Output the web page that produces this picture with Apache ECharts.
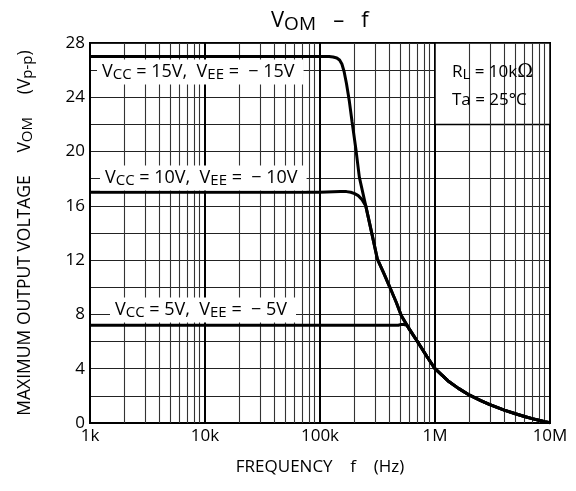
<!DOCTYPE html>
<html>
<head>
<meta charset="utf-8">
<script src="https://cdn.jsdelivr.net/npm/echarts@6/dist/echarts.min.js"></script>
<style>html,body{margin:0;padding:0;background:#fff}#c{width:576px;height:491px}</style>
</head>
<body>
<div id="c"></div>
<script>
// ---- data ----
const freq15 = [1e3, 1e4, 1e5, 1.2e5, 1.3e5, 1.4e5, 1.48e5, 1.55e5, 1.62e5, 1.7e5, 1.8e5, 1.9e5, 2.05e5, 2.2e5, 2.5e5, 2.8e5, 3.15e5, 3.6e5, 4.05e5, 4.6e5, 5.1e5, 6e5, 7.1e5, 8.5e5, 1e6, 1.3e6, 1.6e6, 2e6, 2.5e6, 3e6, 4e6, 5e6, 6e6, 7e6, 8e6, 9e6, 1e7];
const volt15 = [27, 27, 27, 27, 26.97, 26.9, 26.75, 26.45, 25.9, 25.0, 23.7, 22.2, 20.2, 18.1, 16.0, 14.1, 12.1, 11.0, 10.0, 8.9, 7.9, 6.9, 5.95, 4.9, 4.0, 3.1, 2.55, 2.05, 1.65, 1.35, 0.95, 0.68, 0.48, 0.32, 0.2, 0.1, 0.02];

const freq10 = [1e3, 1e4, 1e5, 1.5e5, 1.7e5, 1.85e5, 2e5, 2.15e5, 2.3e5, 2.42e5, 2.5e5, 2.8e5, 3.15e5, 3.6e5, 4.05e5, 4.6e5, 5.1e5, 6e5, 7.1e5, 8.5e5, 1e6, 1.3e6, 1.6e6, 2e6, 2.5e6, 3e6, 4e6, 5e6, 6e6, 7e6, 8e6, 9e6, 1e7];
const volt10 = [17, 17, 17, 17.05, 17.05, 17.0, 16.9, 16.75, 16.5, 16.2, 16.0, 14.1, 12.1, 11.0, 10.0, 8.9, 7.9, 6.9, 5.95, 4.9, 4.0, 3.1, 2.55, 2.05, 1.65, 1.35, 0.95, 0.68, 0.48, 0.32, 0.2, 0.1, 0.02];

const freq5 = [1e3, 1e4, 1e5, 4.8e5, 5.0e5, 5.35e5, 5.7e5, 6e5, 7.1e5, 8.5e5, 1e6, 1.3e6, 1.6e6, 2e6, 2.5e6, 3e6, 4e6, 5e6, 6e6, 7e6, 8e6, 9e6, 1e7];
const volt5 = [7.2, 7.2, 7.2, 7.2, 7.25, 7.25, 7.2, 6.9, 5.95, 4.9, 4.0, 3.1, 2.55, 2.05, 1.65, 1.35, 0.95, 0.68, 0.48, 0.32, 0.2, 0.1, 0.02];

const xTickValues = [1e3, 1e4, 1e5, 1e6, 1e7];
const xTickLabels = ['1k', '10k', '100k', '1M', '10M'];
const decades = [1e3, 1e4, 1e5, 1e6];
const minorMultipliers = [2, 3, 4, 5, 6, 7, 8, 9];
const yLabelStep = 4;

// ---- chart ----
const FONT = 'Open Sans';
const pairs = (fs, vs) => fs.map((f, i) => [f, vs[i]]);
const minorLines = [];
decades.forEach(d => minorMultipliers.forEach(m => minorLines.push({ xAxis: d * m })));

const subRich = {
  v: { fontSize: 18, fontFamily: FONT, color: '#000' },
  s: { fontSize: 15, fontFamily: FONT, color: '#000', padding: [6, 0, 0, 0] }
};
function labelBox(x, y, txt) {
  return {
    type: 'text', x: x, y: y, z: 20,
    style: {
      text: txt, rich: subRich, fill: '#000', fontSize: 18, fontFamily: FONT,
      backgroundColor: '#fff', padding: [2, 9, 2, 5], verticalAlign: 'middle', align: 'left'
    }
  };
}

const chart = echarts.init(document.getElementById('c'), null, { renderer: 'canvas' });
const lineStyle = { color: '#000', width: 3 };
chart.setOption({
  animation: false,
  backgroundColor: '#fff',
  title: {
    text: '{v|V}{s|OM}{v|   –   f}',
    left: 266, top: 2,
    textStyle: {
      rich: {
        v: { fontSize: 22, fontFamily: FONT, fontWeight: 'normal', color: '#000' },
        s: { fontSize: 19, fontFamily: FONT, fontWeight: 'normal', color: '#000', padding: [8, 0, 0, 0] }
      }
    }
  },
  grid: { left: 90, right: 26, top: 43, bottom: 68, show: true, borderColor: '#000', borderWidth: 2, backgroundColor: 'transparent' },
  xAxis: {
    type: 'log', logBase: 10, min: 1e3, max: 1e7,
    name: 'FREQUENCY    f    (Hz)', nameLocation: 'middle', nameGap: 36,
    nameTextStyle: { fontSize: 17, fontFamily: FONT, color: '#000' },
    axisLine: { lineStyle: { color: '#000', width: 2 } },
    axisTick: { show: false },
    axisLabel: {
      fontSize: 17, fontFamily: FONT, color: '#000', margin: 5,
      formatter: v => { const i = xTickValues.findIndex(t => Math.abs(Math.log10(t) - Math.log10(v)) < 1e-6); return i >= 0 ? xTickLabels[i] : ''; }
    },
    splitLine: { show: true, lineStyle: { color: '#000', width: 2 } },
    minorTick: { show: false }, minorSplitLine: { show: false }
  },
  yAxis: {
    type: 'value', min: 0, max: 28, interval: 2,
    name: '{t|MAXIMUM OUTPUT VOLTAGE}{t|     V}{s|OM}{t|     (V}{s|p-p}{t|)}',
    nameLocation: 'middle', nameGap: 55, nameRotate: 90,
    nameTextStyle: {
      rich: {
        t: { fontSize: 17.5, fontFamily: FONT, color: '#000' },
        s: { fontSize: 15, fontFamily: FONT, color: '#000', padding: [5, 0, 0, 0] }
      }
    },
    axisLine: { show: true, lineStyle: { color: '#000', width: 2 } },
    axisTick: { show: false },
    axisLabel: { fontSize: 17, fontFamily: FONT, color: '#000', margin: 5, formatter: v => (v % yLabelStep === 0 ? String(v) : '') },
    splitLine: { show: true, lineStyle: { color: '#222', width: 1.2 } }
  },
  series: [
    {
      name: 'minorGrid', type: 'line', data: [], z: 1, silent: true,
      markLine: { silent: true, symbol: ['none', 'none'], label: { show: false }, lineStyle: { type: 'solid', color: '#333', width: 1.1 }, emphasis: { disabled: true }, data: minorLines }
    },
    {
      name: 'noteBox', type: 'line', data: [], z: 2, silent: true,
      markArea: { silent: true, itemStyle: { color: '#fff', opacity: 1, borderColor: '#000', borderWidth: 1.5 }, label: { show: false }, emphasis: { disabled: true },
        data: [[{ xAxis: 1e6, yAxis: 22 }, { xAxis: 1e7, yAxis: 28 }]] }
    },
    { name: '15V', type: 'line', z: 10, showSymbol: false, smooth: false, lineStyle: lineStyle, data: pairs(freq15, volt15) },
    { name: '10V', type: 'line', z: 10, showSymbol: false, smooth: false, lineStyle: lineStyle, data: pairs(freq10, volt10) },
    { name: '5V', type: 'line', z: 10, showSymbol: false, smooth: false, lineStyle: lineStyle, data: pairs(freq5, volt5) }
  ],
  graphic: [
    labelBox(97, 72, '{v|V}{s|CC}{v| = 15V,  V}{s|EE}{v| =  − 15V}'),
    labelBox(100, 178, '{v|V}{s|CC}{v| = 10V,  V}{s|EE}{v| =  − 10V}'),
    labelBox(110, 310, '{v|V}{s|CC}{v| = 5V,  V}{s|EE}{v| =  − 5V}'),
    { type: 'text', x: 452, y: 72, z: 20, style: { text: '{v|R}{s|L}{v| = 10k}{o|Ω}', rich: { v: { fontSize: 17, fontFamily: FONT, color: '#000' }, s: { fontSize: 15, fontFamily: FONT, color: '#000', padding: [6, 0, 0, 0] }, o: { fontSize: 19, fontFamily: 'DejaVu Serif', color: '#000' } }, verticalAlign: 'middle', align: 'left' } },
    { type: 'text', x: 452, y: 100, z: 20, style: { text: 'Ta = 25°C', fontSize: 17, fontFamily: FONT, fill: '#000', verticalAlign: 'middle', align: 'left' } }
  ]
});
</script>
</body>
</html>
